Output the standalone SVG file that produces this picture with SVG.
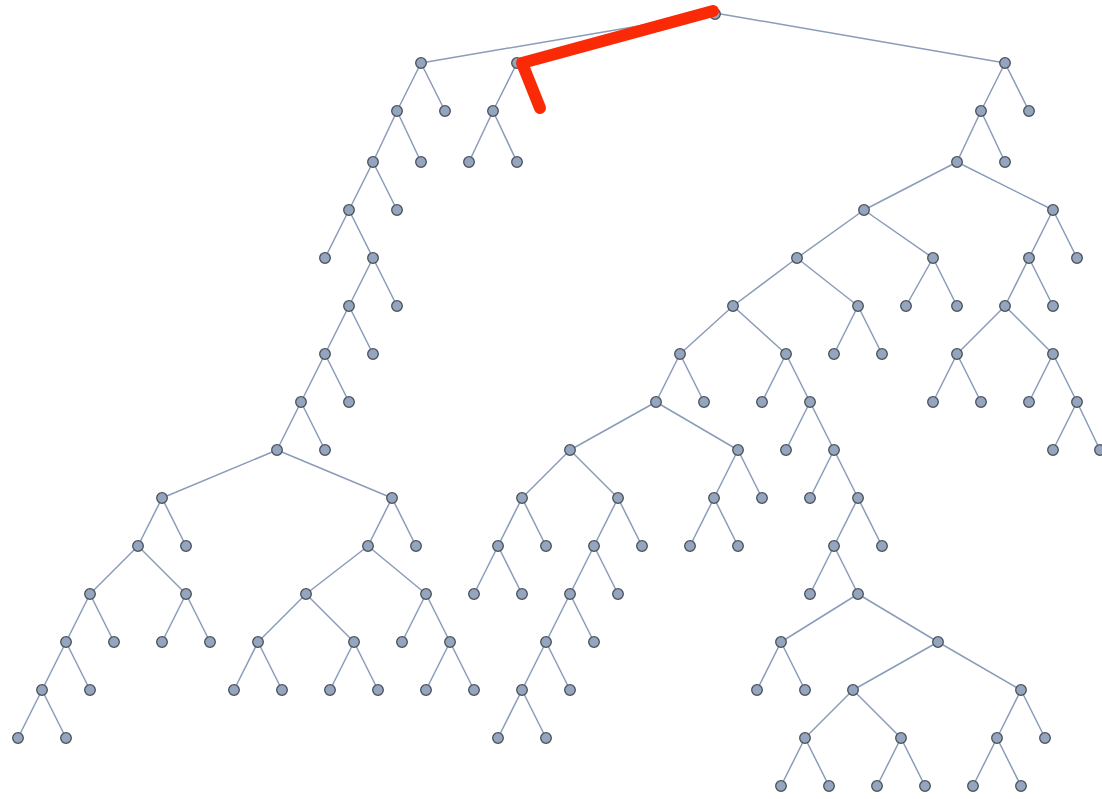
<svg xmlns="http://www.w3.org/2000/svg" width="1102" height="799" viewBox="0 0 1102 799">
<style>
.e{stroke:#8a9cba;stroke-width:1.5;fill:none}
.n{fill:#94a5bf;stroke:#4b4f58;stroke-width:1.3}
.hl{stroke:#fb2a06;stroke-width:12;fill:none;stroke-linecap:round;stroke-linejoin:round}
</style>
<defs><circle id="d" r="5.3" class="n"/></defs>
<rect width="1102" height="799" fill="#fff"/>
<g id="edges" class="e">
<path d="M715,13L421,63M715,13L517,63M715,13L1005,63
M421,63L397,111M421,63L445,111M517,63L493,111M1005,63L981,111M1005,63L1029,111
M397,111L373,162M397,111L421,162M493,111L469,162M493,111L517,162M981,111L957,162M981,111L1005,162
M373,162L349,210M373,162L397,210M957,162L864,210M957,162L1053,210
M349,210L325,258M349,210L373,258M864,210L797,258M864,210L933,258M1053,210L1029,258M1053,210L1077,258
M373,258L349,306M373,258L397,306M797,258L733,306M797,258L858,306M933,258L906,306M933,258L957,306M1029,258L1005,306M1029,258L1053,306
M349,306L325,354M349,306L373,354M733,306L680,354M733,306L786,354M858,306L834,354M858,306L882,354M1005,306L957,354M1005,306L1053,354
M325,354L301,402M325,354L349,402M680,354L656,402M680,354L704,402M786,354L762,402M786,354L810,402M957,354L933,402M957,354L981,402M1053,354L1029,402M1053,354L1077,402
M301,402L277,450M301,402L325,450M656,402L570,450M656,402L738,450M810,402L786,450M810,402L834,450M1077,402L1053,450M1077,402L1100,450
M277,450L162,498M277,450L392,498M570,450L522,498M570,450L618,498M738,450L714,498M738,450L762,498M834,450L810,498M834,450L858,498
M162,498L138,546M162,498L186,546M392,498L368,546M392,498L416,546M522,498L498,546M522,498L546,546M618,498L594,546M618,498L642,546M714,498L690,546M714,498L738,546M858,498L834,546M858,498L882,546
M138,546L90,594M138,546L186,594M368,546L306,594M368,546L426,594M498,546L474,594M498,546L522,594M594,546L570,594M594,546L618,594M834,546L810,594M834,546L858,594
M90,594L66,642M90,594L114,642M186,594L162,642M186,594L210,642M306,594L258,642M306,594L354,642M426,594L402,642M426,594L450,642M570,594L546,642M570,594L594,642M858,594L781,642M858,594L938,642
M66,642L42,690M66,642L90,690M258,642L234,690M258,642L282,690M354,642L330,690M354,642L378,690M450,642L426,690M450,642L474,690M546,642L522,690M546,642L570,690M781,642L757,690M781,642L805,690M938,642L853,690M938,642L1021,690
M42,690L18,738M42,690L66,738M522,690L498,738M522,690L546,738M853,690L805,738M853,690L901,738M1021,690L997,738M1021,690L1045,738
M805,738L781,786M805,738L829,786M901,738L877,786M901,738L925,786M997,738L973,786M997,738L1021,786"/>
</g>
<g id="nodes">
<g id="n0"><use href="#d" x="715" y="14"/></g>
<g id="n1"><use href="#d" x="421" y="63"/><use href="#d" x="517" y="63"/><use href="#d" x="1005" y="63"/></g>
<g id="n2"><use href="#d" x="397" y="111"/><use href="#d" x="445" y="111"/><use href="#d" x="493" y="111"/><use href="#d" x="981" y="111"/><use href="#d" x="1029" y="111"/></g>
<g id="n3"><use href="#d" x="373" y="162"/><use href="#d" x="421" y="162"/><use href="#d" x="469" y="162"/><use href="#d" x="517" y="162"/><use href="#d" x="957" y="162"/><use href="#d" x="1005" y="162"/></g>
<g id="n4"><use href="#d" x="349" y="210"/><use href="#d" x="397" y="210"/><use href="#d" x="864" y="210"/><use href="#d" x="1053" y="210"/></g>
<g id="n5"><use href="#d" x="325" y="258"/><use href="#d" x="373" y="258"/><use href="#d" x="797" y="258"/><use href="#d" x="933" y="258"/><use href="#d" x="1029" y="258"/><use href="#d" x="1077" y="258"/></g>
<g id="n6"><use href="#d" x="349" y="306"/><use href="#d" x="397" y="306"/><use href="#d" x="733" y="306"/><use href="#d" x="858" y="306"/><use href="#d" x="906" y="306"/><use href="#d" x="957" y="306"/><use href="#d" x="1005" y="306"/><use href="#d" x="1053" y="306"/></g>
<g id="n7"><use href="#d" x="325" y="354"/><use href="#d" x="373" y="354"/><use href="#d" x="680" y="354"/><use href="#d" x="786" y="354"/><use href="#d" x="834" y="354"/><use href="#d" x="882" y="354"/><use href="#d" x="957" y="354"/><use href="#d" x="1053" y="354"/></g>
<g id="n8"><use href="#d" x="301" y="402"/><use href="#d" x="349" y="402"/><use href="#d" x="656" y="402"/><use href="#d" x="704" y="402"/><use href="#d" x="762" y="402"/><use href="#d" x="810" y="402"/><use href="#d" x="933" y="402"/><use href="#d" x="981" y="402"/><use href="#d" x="1029" y="402"/><use href="#d" x="1077" y="402"/></g>
<g id="n9"><use href="#d" x="277" y="450"/><use href="#d" x="325" y="450"/><use href="#d" x="570" y="450"/><use href="#d" x="738" y="450"/><use href="#d" x="786" y="450"/><use href="#d" x="834" y="450"/><use href="#d" x="1053" y="450"/><use href="#d" x="1100" y="450"/></g>
<g id="n10"><use href="#d" x="162" y="498"/><use href="#d" x="392" y="498"/><use href="#d" x="522" y="498"/><use href="#d" x="618" y="498"/><use href="#d" x="714" y="498"/><use href="#d" x="762" y="498"/><use href="#d" x="810" y="498"/><use href="#d" x="858" y="498"/></g>
<g id="n11"><use href="#d" x="138" y="546"/><use href="#d" x="186" y="546"/><use href="#d" x="368" y="546"/><use href="#d" x="416" y="546"/><use href="#d" x="498" y="546"/><use href="#d" x="546" y="546"/><use href="#d" x="594" y="546"/><use href="#d" x="642" y="546"/><use href="#d" x="690" y="546"/><use href="#d" x="738" y="546"/><use href="#d" x="834" y="546"/><use href="#d" x="882" y="546"/></g>
<g id="n12"><use href="#d" x="90" y="594"/><use href="#d" x="186" y="594"/><use href="#d" x="306" y="594"/><use href="#d" x="426" y="594"/><use href="#d" x="474" y="594"/><use href="#d" x="522" y="594"/><use href="#d" x="570" y="594"/><use href="#d" x="618" y="594"/><use href="#d" x="810" y="594"/><use href="#d" x="858" y="594"/></g>
<g id="n13"><use href="#d" x="66" y="642"/><use href="#d" x="114" y="642"/><use href="#d" x="162" y="642"/><use href="#d" x="210" y="642"/><use href="#d" x="258" y="642"/><use href="#d" x="354" y="642"/><use href="#d" x="402" y="642"/><use href="#d" x="450" y="642"/><use href="#d" x="546" y="642"/><use href="#d" x="594" y="642"/><use href="#d" x="781" y="642"/><use href="#d" x="938" y="642"/></g>
<g id="n14"><use href="#d" x="42" y="690"/><use href="#d" x="90" y="690"/><use href="#d" x="234" y="690"/><use href="#d" x="282" y="690"/><use href="#d" x="330" y="690"/><use href="#d" x="378" y="690"/><use href="#d" x="426" y="690"/><use href="#d" x="474" y="690"/><use href="#d" x="522" y="690"/><use href="#d" x="570" y="690"/><use href="#d" x="757" y="690"/><use href="#d" x="805" y="690"/><use href="#d" x="853" y="690"/><use href="#d" x="1021" y="690"/></g>
<g id="n15"><use href="#d" x="18" y="738"/><use href="#d" x="66" y="738"/><use href="#d" x="498" y="738"/><use href="#d" x="546" y="738"/><use href="#d" x="805" y="738"/><use href="#d" x="901" y="738"/><use href="#d" x="997" y="738"/><use href="#d" x="1045" y="738"/></g>
<g id="n16"><use href="#d" x="781" y="786"/><use href="#d" x="829" y="786"/><use href="#d" x="877" y="786"/><use href="#d" x="925" y="786"/><use href="#d" x="973" y="786"/><use href="#d" x="1021" y="786"/></g>
</g>
<!-- highlighted path -->
<g id="highlight"><path class="hl" d="M713,11L522,63L540,108"/></g>
</svg>
